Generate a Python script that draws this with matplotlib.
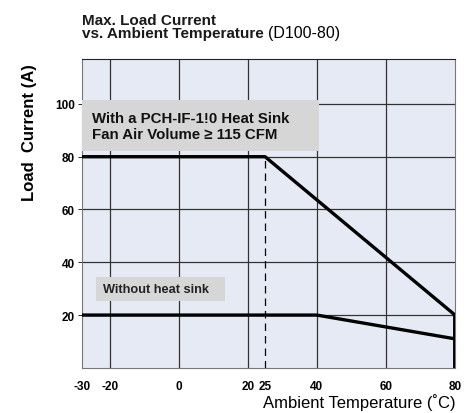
import matplotlib
matplotlib.use("Agg")
import matplotlib.pyplot as plt
from matplotlib.patches import Rectangle

plt.rcParams["font.family"] = ["Liberation Sans", "DejaVu Sans"]

# Derating curves (ambient temperature in C, load current in A)
heatsink_temp = [-28, 25, 80]
heatsink_curr = [80, 80, 20]
bare_temp = [-28, 40, 80]
bare_curr = [20, 20, 11]

x_ticks = [-28, -20, 0, 20, 25, 40, 60, 80]
x_labels = ["-30", "-20", "0", "20", "25", "40", "60", "80"]
grid_x = [-20, 0, 20, 40, 60]
y_ticks = [20, 40, 60, 80, 100]

fig = plt.figure(figsize=(4.74, 4.14), dpi=100)
ax = fig.add_axes([0.173, 0.109, 0.787, 0.746])
ax.set_facecolor("#e6eaf5")
ax.set_xlim(-28, 80)
ax.set_ylim(0, 117)

for x in grid_x:
    ax.axvline(x, color="#333333", lw=0.9, zorder=1)
for y in y_ticks:
    ax.axhline(y, color="#333333", lw=0.9, zorder=1)
ax.plot([25, 25], [0, 80], color="black", lw=0.9, ls=(0, (6, 4)), zorder=2)

ax.plot(heatsink_temp, heatsink_curr, color="black", lw=2.4, zorder=4)
ax.plot(bare_temp, bare_curr, color="black", lw=2.4, zorder=4)
ax.plot([80, 80], [0, 20], color="black", lw=2.8, zorder=4)

ax.add_patch(Rectangle((-28, 82), 68.5, 19.5, facecolor="#d6d6d6",
                       edgecolor="none", zorder=3))
ax.text(-25, 91.6, "With a PCH-IF-1!0 Heat Sink\nFan Air Volume \u2265 115 CFM",
        fontsize=10.8, fontweight="bold", va="center", ha="left",
        linespacing=1.15, color="#111111", zorder=5)
ax.add_patch(Rectangle((-24, 25.3), 37.4, 9, facecolor="#d6d6d6",
                       edgecolor="none", zorder=3))
ax.text(-22, 29.8, "Without heat sink", fontsize=9.2, fontweight="bold",
        va="center", ha="left", color="#222222", zorder=5)

ax.set_xticks(x_ticks)
ax.set_xticklabels(x_labels, fontsize=8.5, fontweight="bold")
ax.set_yticks(y_ticks)
ax.set_yticklabels([str(v) for v in y_ticks], fontsize=8.5, fontweight="bold")
ax.tick_params(axis="x", length=0, pad=9)
ax.tick_params(axis="y", length=3, width=0.6, pad=2)
for s in ax.spines.values():
    s.set_color("#777777")
    s.set_linewidth(0.8)
ax.spines["top"].set_color("#222222")

fig.text(0.962, 0.008, "Ambient Temperature (\u02daC)", fontsize=12,
         ha="right", va="bottom")
fig.text(0.063, 0.68, "Load  Current (A)", fontsize=12, rotation=90,
         ha="center", va="center", fontweight="bold")
fig.text(0.173, 0.902, "Max. Load Current\nvs. Ambient Temperature",
         fontsize=11, ha="left", va="bottom", linespacing=0.9,
         fontweight="bold", color="#1a1a1a")
fig.text(0.566, 0.902, "(D100-80)", fontsize=11.5, ha="left", va="bottom")

fig.savefig("out.png", dpi=100)
